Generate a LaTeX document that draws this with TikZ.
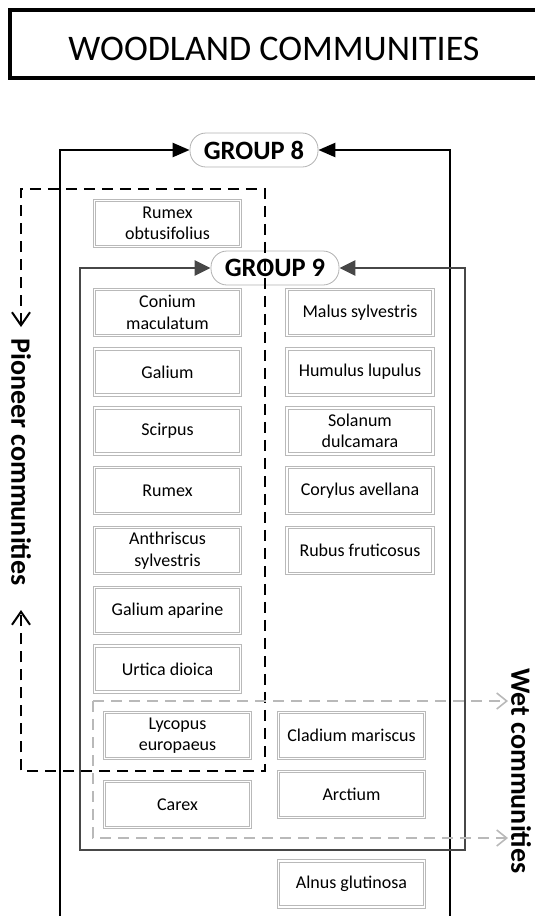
\documentclass[tikz,border=0pt]{standalone}
\usepackage{fontspec}
\setmainfont{Carlito}
\usetikzlibrary{arrows.meta}

\tikzset{
  plant/.style={draw=gray!55, double, double distance=1.6pt, line width=0.9pt,
    minimum width=146pt, minimum height=46pt, inner sep=1pt, align=center,
    font=\fontsize{18}{21.5}\selectfont},
  grouplabel/.style={draw=gray!60, line width=0.8pt, fill=white, rounded corners=16pt,
    minimum width=128pt, minimum height=34pt, inner sep=0pt,
    font=\fontsize{26.5}{30}\selectfont\bfseries},
  sidelabel/.style={rotate=-90, inner sep=0pt, font=\fontsize{28}{30}\selectfont\bfseries},
  g8line/.style={black, line width=2.4pt},
  g9line/.style={black!72, line width=2.4pt},
  pioneer/.style={black, line width=1.8pt, dash pattern=on 11pt off 7pt},
  wet/.style={gray!55, line width=1.5pt, dash pattern=on 11pt off 7pt},
  barb/.tip={Straight Barb[length=13pt,width=18pt,line width=2pt]},
  wetbarb/.tip={Straight Barb[length=10pt,width=16pt,line width=1.6pt]},
}

\begin{document}
\begin{tikzpicture}[x=1pt, y=-1pt]
  \useasboundingbox (0,0) rectangle (535,916);

  % title
  \draw[line width=3.5pt] (10,10) rectangle (560,78);
  \node (title) at (274,49) {\fontsize{36}{40}\selectfont WOODLAND COMMUNITIES};

  % group 8
  \node[grouplabel] (g8) at (254,150) {GROUP 8};
  \coordinate (g8bl) at (60,916);
  \coordinate (g8br) at (450,916);
  \draw[g8line, {Triangle[length=17pt,width=14pt]}-] (g8.west) -| (g8bl);
  \draw[g8line, {Triangle[length=17pt,width=14pt]}-] (g8.east) -| (g8br);

  % group 9
  \node[grouplabel] (g9) at (275,268) {GROUP 9};
  \coordinate (g9tl) at (80,268);
  \coordinate (g9bl) at (80,850);
  \coordinate (g9br) at (465,850);
  \coordinate (g9tr) at (465,268);
  \draw[g9line, {Triangle[length=16pt,width=15pt]}-{Triangle[length=16pt,width=15pt]}]
    (g9.west) -- (g9tl) -- (g9bl) -- (g9br) -- (g9tr) -- (g9.east);

  % pioneer communities
  \coordinate (pn1) at (21,327);
  \coordinate (pntl) at (21,189);
  \coordinate (pntr) at (265,189);
  \coordinate (pnbr) at (265,771);
  \coordinate (pnbl) at (21,771);
  \coordinate (pn2) at (21,610);
  \draw[pioneer, barb-barb]
    (pn1) -- (pntl) -- (pntr) -- (pnbr) -- (pnbl) -- (pn2);
  \node[sidelabel] (pioneer) at (21,462) {Pioneer communities};

  % wet communities
  \coordinate (wtl) at (93,701);
  \coordinate (wbl) at (93,838);
  \coordinate (wa1) at (508,701);
  \coordinate (wa2) at (508,838);
  \draw[wet, -wetbarb] (wtl) -- (wa1);
  \draw[wet, -wetbarb] (wtl) -- (wbl) -- (wa2);
  \node[sidelabel] (wet) at (521,771) {Wet communities};

  % plants
  \node[plant] (rumexob) at (167.5,223.5) {Rumex\\obtusifolius};
  \node[plant] (conium) at (167.5,312.5) {Conium\\maculatum};
  \node[plant] (galium) at (167.5,372) {Galium};
  \node[plant] (scirpus) at (167.5,431) {Scirpus};
  \node[plant] (rumex) at (167.5,490.5) {Rumex};
  \node[plant] (anthriscus) at (167.5,550.5) {Anthriscus\\sylvestris};
  \node[plant] (aparine) at (167.5,610.5) {Galium aparine};
  \node[plant] (urtica) at (167.5,669) {Urtica dioica};

  \node[plant] (malus) at (360,312.5) {Malus sylvestris};
  \node[plant] (humulus) at (360,372) {Humulus lupulus};
  \node[plant] (solanum) at (360,431) {Solanum\\dulcamara};
  \node[plant] (corylus) at (360,490.5) {Corylus avellana};
  \node[plant] (rubus) at (360,550.5) {Rubus fruticosus};

  \node[plant] (lycopus) at (177.5,735.5) {Lycopus\\europaeus};
  \node[plant] (carex) at (177.5,804.5) {Carex};
  \node[plant] (cladium) at (351.5,735.5) {Cladium mariscus};
  \node[plant] (arctium) at (351.5,794.5) {Arctium};
  \node[plant] (alnus) at (351.5,884) {Alnus glutinosa};
\end{tikzpicture}
\end{document}
